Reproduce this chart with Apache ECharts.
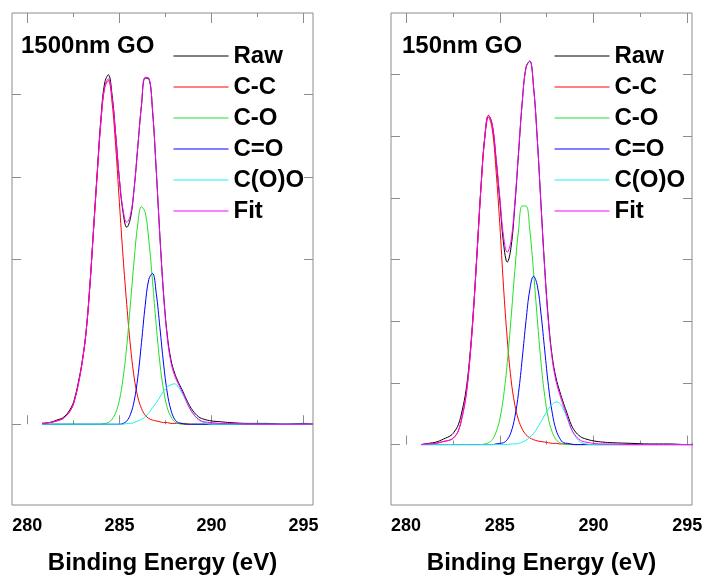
<!DOCTYPE html>
<html><head><meta charset="utf-8">
<script src="https://cdn.jsdelivr.net/npm/echarts@6/dist/echarts.min.js"></script>
<style>html,body{margin:0;padding:0;background:#fff}#c{width:707px;height:578px}</style>
</head><body><div id="c"></div>
<script>
// Binding energy grid (eV), shared by every curve
const energies = [280.8,281.2,281.6,282.0,282.4,282.6,282.8,283.0,283.2,283.4,283.6,283.8,284.0,284.2,284.4,284.6,284.8,285.0,285.2,285.4,285.6,285.8,286.0,286.2,286.4,286.6,286.8,287.0,287.2,287.4,287.6,287.8,288.0,288.2,288.4,288.6,288.8,289.0,289.3,289.6,290.0,290.5,291.0,292.0,293.0,294.0,295.0,295.5];

const xTickLabels = [280, 285, 290, 295];
const xMinorTicks = [282.5, 287.5, 292.5];
const seriesNames = ['Raw', 'C-C', 'C-O', 'C=O', 'C(O)O', 'Fit'];
const panelTitles = ['1500nm GO', '150nm GO'];
const yTicks1500 = [0, 2, 3, 4];
const yTicks150 = [0, 1, 2, 3, 4, 5, 6];

// 1500nm GO
const raw1500 = [0.01,0.02,0.05,0.09,0.21,0.34,0.54,0.79,1.14,1.69,2.38,3.07,3.72,4.14,4.24,4.00,3.51,2.97,2.57,2.39,2.50,2.86,3.37,3.87,4.20,4.19,3.80,3.08,2.28,1.58,1.08,0.78,0.62,0.51,0.42,0.32,0.23,0.16,0.09,0.06,0.04,0.03,0.02,0.01,0.01,0,0.01,0];
const cc1500 = [0.01,0.02,0.04,0.08,0.19,0.32,0.52,0.78,1.14,1.69,2.37,3.05,3.68,4.08,4.17,3.91,3.37,2.69,2.03,1.45,0.95,0.57,0.33,0.19,0.11,0.07,0.05,0.04,0.03,0.02,0.02,0.01,0.01,0.01,0.01,0.01,0,0,0,0,0,0,0,0,0,0,0,0];
const co1500 = [0,0,0,0,0,0,0,0,0,0,0,0,0,0.01,0.02,0.06,0.14,0.29,0.56,0.95,1.46,1.99,2.43,2.64,2.57,2.23,1.73,1.20,0.74,0.41,0.20,0.09,0.03,0.01,0,0,0,0,0,0,0,0,0,0,0,0,0,0];
const cdo1500 = [0,0,0,0,0,0,0,0,0,0,0,0,0,0,0,0,0,0,0.01,0.04,0.12,0.28,0.57,0.99,1.44,1.76,1.83,1.59,1.17,0.73,0.38,0.17,0.06,0.02,0.01,0,0,0,0,0,0,0,0,0,0,0,0,0];
const coo1500 = [0,0,0,0,0,0,0,0,0,0,0,0,0,0,0,0,0,0,0,0.01,0.01,0.02,0.04,0.06,0.09,0.14,0.20,0.26,0.33,0.40,0.45,0.48,0.49,0.45,0.38,0.29,0.20,0.13,0.05,0.02,0,0,0,0,0,0,0,0];
const fit1500 = [0.01,0.02,0.04,0.08,0.19,0.32,0.52,0.78,1.14,1.69,2.37,3.05,3.68,4.09,4.19,3.97,3.51,2.98,2.60,2.45,2.54,2.86,3.37,3.88,4.21,4.20,3.81,3.09,2.27,1.56,1.05,0.75,0.59,0.49,0.40,0.30,0.20,0.13,0.06,0.03,0.02,0.01,0.01,0,0,0,0,0];

// 150nm GO
const raw150 = [0,0.02,0.04,0.09,0.15,0.22,0.33,0.56,0.88,1.42,2.20,3.18,4.19,4.99,5.34,5.18,4.63,3.96,3.27,2.96,3.20,3.86,4.72,5.56,6.12,6.22,5.81,4.96,3.89,2.85,2.00,1.42,1.08,0.86,0.67,0.50,0.33,0.22,0.13,0.09,0.06,0.04,0.03,0.02,0.01,0.01,0,0.01];
const cc150 = [0,0.01,0.02,0.05,0.08,0.13,0.23,0.46,0.79,1.37,2.18,3.17,4.18,4.97,5.31,5.11,4.45,3.58,2.56,1.71,1.06,0.65,0.40,0.25,0.16,0.11,0.08,0.06,0.05,0.04,0.03,0.02,0.02,0.01,0.01,0.01,0,0,0,0,0,0,0,0,0,0,0,0];
const co150 = [0,0,0,0,0,0,0,0,0,0,0,0,0,0.01,0.03,0.08,0.20,0.41,0.78,1.33,2.04,2.81,3.48,3.87,3.87,3.48,2.81,2.04,1.33,0.78,0.41,0.20,0.08,0.03,0.01,0,0,0,0,0,0,0,0,0,0,0,0,0];
const cdo150 = [0,0,0,0,0,0,0,0,0,0,0,0,0,0,0,0,0.01,0.02,0.03,0.08,0.20,0.44,0.84,1.40,2.01,2.51,2.73,2.58,2.12,1.52,0.94,0.51,0.24,0.10,0.03,0.02,0.01,0,0,0,0,0,0,0,0,0,0,0];
const coo150 = [0,0,0,0,0,0,0,0,0,0,0,0,0,0,0,0,0,0,0,0,0.01,0.01,0.02,0.04,0.07,0.12,0.18,0.27,0.37,0.48,0.58,0.65,0.69,0.67,0.57,0.42,0.26,0.15,0.04,0.01,0,0,0,0,0,0,0,0];
const fit150 = [0,0.01,0.02,0.05,0.08,0.13,0.23,0.46,0.79,1.37,2.18,3.17,4.18,4.98,5.34,5.19,4.66,4.02,3.38,3.12,3.31,3.91,4.74,5.56,6.11,6.22,5.80,4.95,3.87,2.82,1.96,1.38,1.03,0.81,0.62,0.45,0.27,0.16,0.07,0.04,0.02,0.01,0.01,0,0,0,0,0];

const panelData = [
  [raw1500, cc1500, co1500, cdo1500, coo1500, fit1500],
  [raw150, cc150, co150, cdo150, coo150, fit150]
];
const yTickSets = [yTicks1500, yTicks150];

// layout / style
const FONT = '"Liberation Sans", Arial, sans-serif';
const FRAME = '#8c8c8c';
const colors = ['#000000', '#ff0000', '#22e022', '#0000ff', '#22eeee', '#ff00ff'];
const panels = [
  {left: 12, width: 301, xmin: 279.17, xmax: 295.51, ymin: -0.98, ymax: 4.99, legendLeft: 173, titleLeft: 21},
  {left: 391, width: 301, xmin: 279.20, xmax: 295.25, ymin: -0.98, ymax: 7.0, legendLeft: 554, titleLeft: 402}
];
const TOP = 13, HEIGHT = 492;

const grid = [], xAxis = [], yAxis = [], series = [], legend = [], title = [];
panels.forEach((p, g) => {
  grid.push({left: p.left, top: TOP, width: p.width, height: HEIGHT, show: true,
    borderColor: FRAME, borderWidth: 1, backgroundColor: 'transparent',
    containLabel: false, outerBoundsMode: 'none'});
  const xBase = {gridIndex: g, type: 'value', min: p.xmin, max: p.xmax,
    axisLine: {show: false}, splitLine: {show: false}};
  xAxis.push(Object.assign({}, xBase, {position: 'bottom',
    axisTick: {inside: true, length: 9, customValues: xTickLabels, lineStyle: {color: FRAME}},
    axisLabel: {customValues: xTickLabels, fontSize: 18, fontWeight: 'bold', color: '#000', fontFamily: FONT, margin: 12},
    name: 'Binding Energy (eV)', nameLocation: 'middle', nameGap: 46,
    nameTextStyle: {fontSize: 24, fontWeight: 'bold', color: '#000', fontFamily: FONT}}));
  xAxis.push(Object.assign({}, xBase, {position: 'bottom',
    axisTick: {inside: true, length: 4, customValues: xMinorTicks, lineStyle: {color: FRAME}},
    axisLabel: {show: false}}));
  xAxis.push(Object.assign({}, xBase, {position: 'top',
    axisTick: {inside: true, length: 10, customValues: xTickLabels, lineStyle: {color: FRAME}},
    axisLabel: {show: false}}));
  xAxis.push(Object.assign({}, xBase, {position: 'top',
    axisTick: {inside: true, length: 4, customValues: xMinorTicks, lineStyle: {color: FRAME}},
    axisLabel: {show: false}}));
  ['left', 'right'].forEach(pos => {
    yAxis.push({gridIndex: g, type: 'value', position: pos, min: p.ymin, max: p.ymax,
      axisLine: {show: false}, splitLine: {show: false},
      axisTick: {inside: true, length: 9, customValues: yTickSets[g], lineStyle: {color: FRAME}},
      axisLabel: {show: false}});
  });
  panelData[g].forEach((vals, k) => {
    series.push({type: 'line', name: seriesNames[k], xAxisIndex: 4 * g, yAxisIndex: 2 * g,
      data: energies.map((e, i) => [e, vals[i]]), symbol: 'none', smooth: 0.4,
      lineStyle: {width: 1, color: colors[k]}, itemStyle: {color: colors[k]}, z: 2 + k});
  });
  legend.push({data: seriesNames, orient: 'vertical', left: p.legendLeft, top: 44,
    itemWidth: 55, itemHeight: 14, itemGap: 7, padding: 0, selectedMode: false,
    itemStyle: {opacity: 0}, lineStyle: {width: 1, opacity: 1},
    textStyle: {fontSize: 24, fontWeight: 'bold', color: '#000', fontFamily: FONT, lineHeight: 24}});
  title.push({text: panelTitles[g], left: p.titleLeft, top: 34, padding: 0,
    textStyle: {fontSize: 24, fontWeight: 'bold', color: '#000', fontFamily: FONT}});
});

const chart = echarts.init(document.getElementById('c'), null, {renderer: 'canvas'});
chart.setOption({animation: false, backgroundColor: '#fff', grid, xAxis, yAxis, series, legend, title});
</script></body></html>
